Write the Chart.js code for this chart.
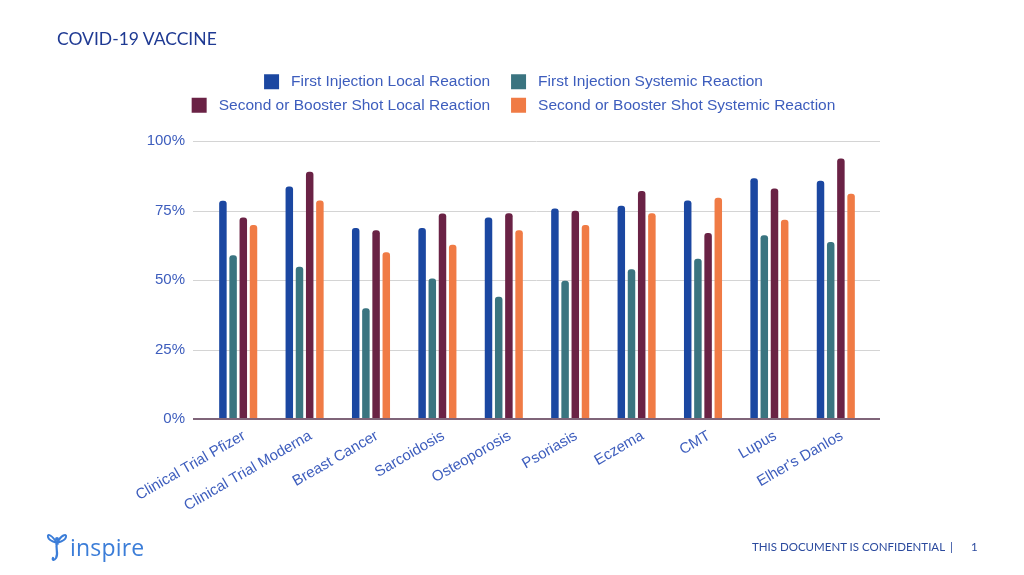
<!DOCTYPE html>
<html>
<head>
<meta charset="utf-8">
<script src="https://cdn.jsdelivr.net/npm/chart.js@4.4.1/dist/chart.umd.min.js"></script>
<style>
  html, body { margin: 0; padding: 0; background: #ffffff; }
  #wrap { position: relative; width: 1024px; height: 575px; overflow: hidden; background: #fff; }
  #chart { position: absolute; left: 0; top: 0; }
  #title { position: absolute; left: 57px; top: 28px; font-family: Lato, sans-serif; font-size: 17.5px; color: #1f3a93; }
  .foot { position: absolute; top: 540px; font-family: Lato, sans-serif; font-size: 11.5px; color: #2b4a9e; white-space: pre; }
  #logo { position: absolute; left: 46px; top: 530px; height: 34px; display: flex; align-items: center; }
  #logo span { font-family: "Open Sans", sans-serif; font-size: 23px; color: #3b7dd8; margin-left: 2px; letter-spacing: 0.2px; }
</style>
</head>
<body>
<div id="wrap">
  <canvas id="chart" width="1024" height="575"></canvas>
  <div id="title">COVID-19 VACCINE</div>
  <div id="logo">
    <svg width="22" height="32" viewBox="0 0 22 32">
      <path d="M11 12 C 6 4, 1 2, 2 6 C 3 10, 8 11, 11 12 Z" fill="none" stroke="#3b7dd8" stroke-width="2"/>
      <path d="M11 12 C 15 4, 21 2, 20 6 C 19 10, 14 11, 11 12 Z" fill="none" stroke="#3b7dd8" stroke-width="2"/>
      <circle cx="11" cy="8" r="2" fill="#3b7dd8"/>
      <path d="M11 12 C 9 18, 13 22, 10 27 C 8 30, 6 29, 7 27" fill="none" stroke="#3b7dd8" stroke-width="2.2" stroke-linecap="round"/>
    </svg>
    <span>inspire</span>
  </div>
  <div class="foot" style="left:752px">THIS DOCUMENT IS CONFIDENTIAL</div>
  <div class="foot" style="left:950px">|</div>
  <div class="foot" style="left:971px">1</div>
</div>
<script>
const categories = ['Clinical Trial Pfizer', 'Clinical Trial Moderna', 'Breast Cancer', 'Sarcoidosis', 'Osteoporosis', 'Psoriasis', 'Eczema', 'CMT', 'Lupus', "Elher's Danlos"];
const seriesNames = ['First Injection Local Reaction', 'First Injection Systemic Reaction', 'Second or Booster Shot Local Reaction', 'Second or Booster Shot Systemic Reaction'];
const firstLocal = [78.5, 83.6, 68.7, 68.7, 72.5, 75.7, 76.7, 78.6, 86.6, 85.7];
const firstSystemic = [58.9, 54.8, 39.8, 50.5, 44.0, 49.7, 53.9, 57.6, 66.1, 63.7];
const secondLocal = [72.5, 88.9, 67.9, 73.9, 74.0, 74.9, 82.0, 66.9, 82.9, 93.7];
const secondSystemic = [69.8, 78.6, 60.0, 62.7, 67.9, 69.8, 74.0, 79.6, 71.7, 81.0];
const yTicks = [0, 25, 50, 75, 100];

const colors = ['#1b47a1', '#3a7480', '#6a2245', '#f07b45'];
const textBlue = '#3d5dbd';
const seriesValues = [firstLocal, firstSystemic, secondLocal, secondSystemic];

const gridPlugin = {
  id: 'extGrid',
  beforeDatasetsDraw(chart) {
    const { ctx, chartArea, scales: { y } } = chart;
    ctx.save();
    ctx.strokeStyle = '#d4d4d4';
    ctx.lineWidth = 1;
    yTicks.forEach(v => {
      if (v === 0) return;
      const py = Math.round(y.getPixelForValue(v)) + 0.5;
      ctx.beginPath();
      ctx.moveTo(chartArea.left - 12, py);
      ctx.lineTo(chartArea.right + 11, py);
      ctx.stroke();
    });
    ctx.restore();
  },
  afterDatasetsDraw(chart) {
    const { ctx, chartArea, scales: { y } } = chart;
    const py = y.getPixelForValue(0);
    ctx.save();
    ctx.strokeStyle = '#7f6479';
    ctx.lineWidth = 2;
    ctx.beginPath();
    ctx.moveTo(chartArea.left - 12, py);
    ctx.lineTo(chartArea.right + 11, py);
    ctx.stroke();
    ctx.restore();
  }
};

const legendGap = {
  id: 'legendGap',
  beforeUpdate(chart) {
    const lg = chart.legend;
    if (lg && !lg._gapPatched) {
      const origFit = lg.fit.bind(lg);
      lg.fit = function () { origFit(); this.height += 18; };
      lg._gapPatched = true;
    }
  },
  afterLayout(chart) {
    const lg = chart.legend;
    if (lg) { lg.left += 29; lg.right += 29; }
  }
};

const defaultLabels = Chart.defaults.plugins.legend.labels.generateLabels;

new Chart(document.getElementById('chart'), {
  type: 'bar',
  data: {
    labels: categories,
    datasets: seriesValues.map((vals, i) => ({
      label: seriesNames[i],
      data: vals,
      backgroundColor: colors[i],
      borderWidth: 0,
      borderRadius: { topLeft: 3, topRight: 3, bottomLeft: 0, bottomRight: 0 },
      borderSkipped: 'bottom',
      categoryPercentage: 0.614,
      barPercentage: 0.735
    }))
  },
  options: {
    responsive: false,
    animation: false,
    devicePixelRatio: 1,
    layout: { padding: { top: 66, left: 100, right: 155, bottom: 0 } },
    plugins: {
      legend: {
        position: 'top',
        maxWidth: 700,
        labels: {
          boxWidth: 15,
          boxHeight: 15,
          padding: 8,
          color: textBlue,
          font: { family: '"Liberation Sans", Arial, sans-serif', size: 15.5 },
          generateLabels(chart) {
            return defaultLabels(chart).map((item, i) => {
              item.text = ' ' + item.text + (i % 2 === 0 ? '   ' : '');
              item.lineWidth = 0;
              return item;
            });
          }
        }
      },
      tooltip: { enabled: false },
      title: { display: false }
    },
    scales: {
      x: {
        grid: { display: false, drawTicks: false },
        border: { display: false },
        ticks: {
          color: textBlue,
          font: { family: '"Liberation Sans", Arial, sans-serif', size: 15 },
          maxRotation: 30,
          minRotation: 30,
          autoSkip: false,
          padding: 8,
          labelOffset: 6
        },
        afterFit(axis) { axis.height = 156; }
      },
      y: {
        min: 0,
        max: 100,
        grid: { display: false, drawTicks: false },
        border: { display: false },
        afterBuildTicks(axis) { axis.ticks = yTicks.map(v => ({ value: v })); },
        ticks: {
          color: textBlue,
          font: { family: '"Liberation Sans", Arial, sans-serif', size: 15 },
          padding: 20,
          callback: v => v + '%'
        },
        afterFit(axis) { axis.width = 105; }
      }
    }
  },
  plugins: [gridPlugin, legendGap]
});
</script>
</body>
</html>
